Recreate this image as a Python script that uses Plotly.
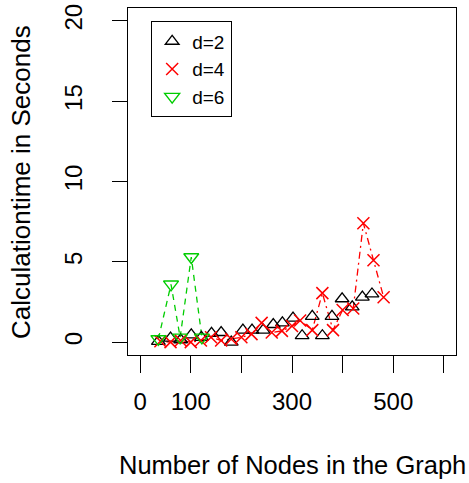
import plotly.graph_objects as go

# ---- data ----
d2_x = [36, 60, 80, 101, 121, 141, 160, 180, 203, 221, 243, 263, 281, 302, 320, 340, 360, 379, 399, 419, 439, 458]
d2_y = [0.05, 0.25, 0.15, 0.45, 0.3, 0.55, 0.6, 0.0, 0.75, 0.75, 0.75, 1.1, 1.2, 1.5, 0.4, 1.6, 0.4, 1.6, 2.7, 2.2, 2.8, 3.0]

d4_x = [40, 60, 80, 100, 120, 140, 160, 180, 200, 220, 240, 260, 280, 300, 316, 340, 360, 381, 400, 421, 441, 461, 481]
d4_y = [0.05, 0.0, 0.1, 0.0, 0.1, 0.3, 0.1, 0.2, 0.3, 0.5, 1.2, 0.6, 0.7, 1.0, 1.35, 0.75, 3.05, 0.75, 2.0, 2.1, 7.4, 5.1, 2.8]

d6_x = [36, 61, 79, 101, 122]
d6_y = [0.2, 3.6, 0.3, 5.3, 0.3]

x_ticks = [0, 100, 200, 300, 400, 500, 600]
x_ticktext = ["0", "100", "", "300", "", "500", ""]
y_ticks = [0, 5, 10, 15, 20]

FONT = "Liberation Sans, Arial, Helvetica, sans-serif"
RED = "#FF0000"
GREEN = "#00CD00"
BLACK = "#000000"

fig = go.Figure()

# connecting lines (not in legend)
fig.add_trace(go.Scatter(x=d4_x, y=d4_y, mode="lines", showlegend=False, hoverinfo="skip",
                         line=dict(color=RED, width=1.3, dash="2px,4px,7px,4px")))
fig.add_trace(go.Scatter(x=d6_x, y=d6_y, mode="lines", showlegend=False, hoverinfo="skip",
                         line=dict(color=GREEN, width=1.3, dash="6px,5px")))

# markers
fig.add_trace(go.Scatter(x=d2_x, y=d2_y, mode="markers", name="d=2",
                         marker=dict(symbol="triangle-up-open", size=12, color=BLACK,
                                     line=dict(width=1.3, color=BLACK))))
fig.add_trace(go.Scatter(x=d4_x, y=d4_y, mode="markers", name="d=4",
                         marker=dict(symbol="x-thin-open", size=12, color=RED,
                                     line=dict(width=1.5, color=RED))))
fig.add_trace(go.Scatter(x=d6_x, y=d6_y, mode="markers", name="d=6",
                         marker=dict(symbol="triangle-down-open", size=13, color=GREEN,
                                     line=dict(width=1.4, color=GREEN))))

fig.update_layout(
    width=469, height=483,
    margin=dict(l=128, r=13, t=8, b=128, autoexpand=False),
    paper_bgcolor="white", plot_bgcolor="white",
    font=dict(family=FONT, size=24, color="#000000"),
    showlegend=True,
    legend=dict(x=0.07, y=0.962, xanchor="left", yanchor="top",
                bordercolor="#000000", borderwidth=1.2, bgcolor="white",
                font=dict(size=19, family=FONT), tracegroupgap=0,
                itemwidth=30),
    xaxis=dict(range=[-24, 624], tickmode="array", tickvals=x_ticks, ticktext=x_ticktext,
               showgrid=False, zeroline=False, showline=True, mirror=True,
               linecolor=BLACK, linewidth=1.2, ticks="outside", ticklen=17,
               tickwidth=1.2, tickcolor=BLACK, ticklabelstandoff=8,
               tickfont=dict(size=24, family=FONT)),
    yaxis=dict(range=[-0.8, 20.8], tickmode="array", tickvals=y_ticks,
               showgrid=False, zeroline=False, showline=True, mirror=True,
               linecolor=BLACK, linewidth=1.2, ticks="outside", ticklen=15,
               tickwidth=1.2, tickcolor=BLACK, tickangle=-90, ticklabelstandoff=20,
               tickfont=dict(size=24, family=FONT)),
    annotations=[
        dict(text="Number of Nodes in the Graph", xref="paper", yref="paper",
             x=0.503, y=-0.317, xanchor="center", yanchor="middle", showarrow=False,
             font=dict(size=25.5, family=FONT)),
        dict(text="Calculationtime in Seconds", xref="paper", yref="paper",
             x=-0.326, y=0.499, xanchor="center", yanchor="middle", showarrow=False,
             textangle=-90, font=dict(size=26, family=FONT)),
    ],
)

fig.write_html("out.html")
